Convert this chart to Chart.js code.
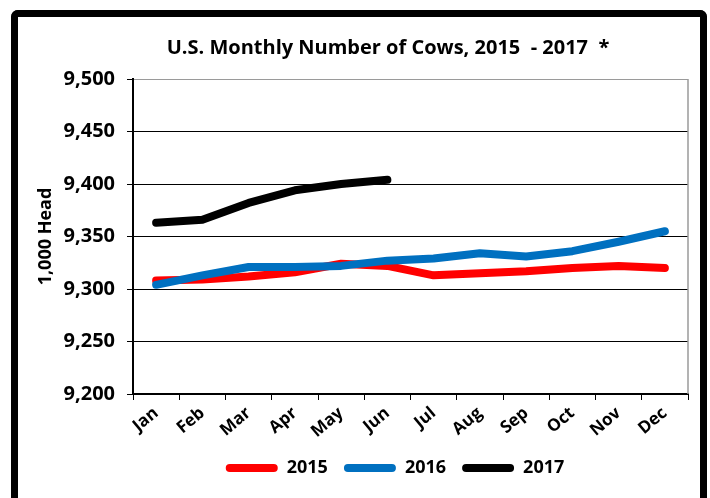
<!DOCTYPE html>
<html>
<head>
<meta charset="utf-8">
<script src="https://cdn.jsdelivr.net/npm/chart.js@4/dist/chart.umd.min.js"></script>
<style>
  html, body { margin: 0; padding: 0; background: #fff; }
  #wrap { position: relative; width: 710px; height: 498px; }
  #frame {
    position: absolute; left: 11px; top: 10px; width: 682px; height: 490px;
    border: 7px solid #000; border-bottom: none;
    border-radius: 7px 7px 0 0; pointer-events: none;
  }
</style>
</head>
<body>
<div id="wrap">
  <canvas id="cows_line" width="710" height="498"></canvas>
  <div id="frame"></div>
</div>
<script>
const months = ['Jan', 'Feb', 'Mar', 'Apr', 'May', 'Jun', 'Jul', 'Aug', 'Sep', 'Oct', 'Nov', 'Dec'];
const cows2015 = [9308, 9309, 9312, 9316, 9324, 9322, 9313, 9315, 9317, 9320, 9322, 9320];
const cows2016 = [9304, 9313, 9321, 9321, 9322, 9327, 9329, 9334, 9331, 9336, 9345, 9355];
const cows2017 = [9363, 9366, 9382, 9394, 9400, 9404];
const yTicks = [9200, 9250, 9300, 9350, 9400, 9450, 9500];

const font = '"Open Sans", sans-serif';

// shift title and legend to where the original has them
const shiftBoxes = {
  id: 'shiftBoxes',
  afterLayout(chart) {
    chart.titleBlock.left += 34;
    chart.titleBlock.right += 34;
    chart.legend.left += 41;
    chart.legend.right += 41;
  }
};

// grey right edge of the plot area
const plotEdge = {
  id: 'plotEdge',
  afterDraw(chart) {
    const {ctx, chartArea} = chart;
    ctx.save();
    ctx.strokeStyle = '#9a9a9a';
    ctx.lineWidth = 1.5;
    ctx.beginPath();
    ctx.moveTo(chartArea.right, chartArea.top);
    ctx.lineTo(chartArea.right, chartArea.bottom);
    ctx.stroke();
    ctx.restore();
  }
};

function drawCows(el) {
  if (!el) return;

  const line = (label, data, color, order) => ({
    label: label,
    data: data,
    borderColor: color,
    backgroundColor: color,
    borderWidth: 8,
    borderCapStyle: 'round',
    borderJoinStyle: 'round',
    pointRadius: 0,
    tension: 0,
    order: order
  });

  const data = {
    labels: months,
    datasets: [
      line('2015', cows2015, '#ff0000', 3),
      line('2016', cows2016, '#0070c0', 2),
      line('2017', cows2017, '#000000', 1)
    ]
  };

  const config = {
    type: 'line',
    data: data,
    options: {
      responsive: false,
      animation: false,
      layout: { padding: { top: 20, left: 20, right: 22, bottom: 11 } },
      scales: {
        x: {
          offset: true,
          grid: { offset: true, drawOnChartArea: false, color: '#000', tickLength: 6 },
          border: { color: '#000', width: 2 },
          ticks: {
            color: '#000', minRotation: 40, maxRotation: 40, padding: 3,
            font: { family: font, size: 17, weight: '700' }
          },
          afterFit(scale) { scale.height = 49; }
        },
        y: {
          min: 9200,
          max: 9500,
          afterBuildTicks(scale) { scale.ticks = yTicks.map(v => ({ value: v })); },
          grid: {
            color: ctx => (ctx.tick && ctx.tick.value === 9500) ? '#9a9a9a' : '#000',
            tickColor: '#000',
            tickLength: 6,
            lineWidth: 1
          },
          border: { color: '#000', width: 2 },
          ticks: {
            color: '#000', padding: 12,
            font: { family: font, size: 20, weight: '700' },
            callback: v => v.toLocaleString('en-US')
          },
          title: {
            display: true, text: '1,000 Head', color: '#000',
            font: { family: font, size: 18, weight: '700' },
            padding: { top: 15, bottom: 0 }
          },
          afterFit(scale) { scale.width = 113; }
        }
      },
      plugins: {
        title: {
          display: true,
          text: 'U.S. Monthly Number of Cows, 2015  - 2017  *',
          color: '#000',
          font: { family: font, size: 20, weight: '700' },
          padding: { top: 16, bottom: 19 }
        },
        legend: {
          position: 'bottom',
          labels: {
            color: '#000',
            boxWidth: 52,
            boxHeight: 8,
            padding: 16,
            useBorderRadius: true,
            borderRadius: 4,
            font: { family: font, size: 18, weight: '700' },
            sort: (a, b) => a.datasetIndex - b.datasetIndex,
            generateLabels(chart) {
              return Chart.defaults.plugins.legend.labels.generateLabels(chart).map(item => {
                item.fillStyle = item.strokeStyle;
                item.lineWidth = 0;
                return item;
              });
            }
          }
        },
        tooltip: { enabled: false }
      }
    },
    plugins: [shiftBoxes, plotEdge]
  };

  new Chart(el, config);
}

drawCows(document.getElementById('cows_line'));
</script>
</body>
</html>
